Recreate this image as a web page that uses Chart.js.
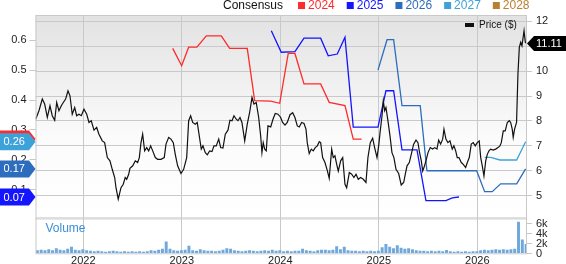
<!DOCTYPE html>
<html>
<head>
<meta charset="utf-8">
<script src="https://cdn.jsdelivr.net/npm/chart.js@4.4.1/dist/chart.umd.min.js"></script>
<style>
  html, body { margin: 0; padding: 0; background: #fff; }
  #wrap { width: 566px; height: 264px; position: relative; }
</style>
</head>
<body>
<div id="wrap"><canvas id="chart"></canvas></div>
<script>
// --- data (dates are decimal years) ---
const priceDates = [
  2021.517, 2021.550, 2021.584, 2021.608, 2021.635, 2021.662, 2021.685, 2021.710, 2021.730, 2021.753,
  2021.777, 2021.797, 2021.821, 2021.845, 2021.865, 2021.888, 2021.913, 2021.933, 2021.956, 2021.980,
  2022.007, 2022.035, 2022.058, 2022.081, 2022.109, 2022.136, 2022.159, 2022.193, 2022.217, 2022.244,
  2022.271, 2022.294, 2022.319, 2022.333, 2022.355, 2022.383, 2022.406, 2022.426, 2022.441, 2022.461,
  2022.474, 2022.502, 2022.528, 2022.552, 2022.569, 2022.586, 2022.603, 2022.623, 2022.644, 2022.664,
  2022.684, 2022.705, 2022.731, 2022.755, 2022.789, 2022.822, 2022.840, 2022.867, 2022.890, 2022.914,
  2022.934, 2022.958, 2022.992, 2023.019, 2023.050, 2023.070, 2023.090, 2023.111, 2023.137, 2023.157,
  2023.198, 2023.215, 2023.239, 2023.259, 2023.283, 2023.307, 2023.327, 2023.350, 2023.375, 2023.395,
  2023.418, 2023.442, 2023.469, 2023.489, 2023.510, 2023.530, 2023.553, 2023.571, 2023.591, 2023.611,
  2023.639, 2023.665, 2023.689, 2023.713, 2023.733, 2023.756, 2023.781, 2023.801, 2023.814, 2023.827,
  2023.842, 2023.858, 2023.875, 2023.903, 2023.926, 2023.949, 2023.977, 2024.003, 2024.024, 2024.048,
  2024.071, 2024.099, 2024.126, 2024.149, 2024.173, 2024.193, 2024.217, 2024.241, 2024.261, 2024.274,
  2024.294, 2024.315, 2024.335, 2024.355, 2024.376, 2024.396, 2024.410, 2024.430, 2024.454, 2024.477,
  2024.497, 2024.522, 2024.538, 2024.555, 2024.573, 2024.589, 2024.613, 2024.634, 2024.657, 2024.674,
  2024.701, 2024.725, 2024.748, 2024.769, 2024.792, 2024.816, 2024.843, 2024.870, 2024.890, 2024.914,
  2024.938, 2024.958, 2024.982, 2024.999, 2025.015, 2025.033, 2025.046, 2025.060, 2025.073, 2025.093,
  2025.114, 2025.134, 2025.154, 2025.175, 2025.202, 2025.228, 2025.253, 2025.269, 2025.287, 2025.310,
  2025.330, 2025.354, 2025.378, 2025.398, 2025.411, 2025.432, 2025.446, 2025.459, 2025.479, 2025.500,
  2025.523, 2025.547, 2025.568, 2025.591, 2025.608, 2025.628, 2025.649, 2025.662, 2025.682, 2025.702,
  2025.723, 2025.746, 2025.763, 2025.781, 2025.797, 2025.814, 2025.838, 2025.858, 2025.882, 2025.899,
  2025.919, 2025.939, 2025.959, 2025.980, 2026.000, 2026.020, 2026.035, 2026.051, 2026.068, 2026.086,
  2026.102, 2026.119, 2026.136, 2026.162, 2026.187, 2026.210, 2026.230, 2026.244, 2026.264, 2026.284,
  2026.305, 2026.325, 2026.339, 2026.355, 2026.365, 2026.379, 2026.399, 2026.413, 2026.427, 2026.441,
  2026.454, 2026.475, 2026.488, 2026.502
];
const priceValues = [
  8.07, 8.41, 8.88, 8.68, 8.14, 8.61, 8.21, 8.03, 8.74, 8.41,
  8.61, 8.74, 8.88, 9.21, 9.01, 8.27, 8.54, 8.21, 8.27, 8.21,
  8.47, 8.27, 7.94, 8.01, 7.63, 7.74, 7.47, 7.20, 7.13, 6.53,
  6.40, 6.06, 5.73, 5.30, 4.86, 5.32, 5.46, 5.73, 5.66, 5.86,
  6.10, 6.20, 6.40, 6.33, 6.53, 7.13, 7.47, 6.80, 6.93, 6.80,
  7.00, 6.80, 6.53, 6.46, 6.46, 6.53, 7.07, 7.34, 7.27, 7.13,
  6.66, 6.20, 5.89, 6.06, 6.53, 8.01, 8.21, 7.94, 7.87, 7.94,
  6.87, 7.00, 6.73, 6.64, 6.80, 6.77, 7.00, 7.00, 7.27, 6.93,
  6.91, 7.47, 7.63, 8.03, 8.01, 8.21, 8.07, 8.01, 8.14, 7.94,
  7.20, 7.87, 8.34, 8.94, 8.68, 8.74, 8.14, 7.40, 6.73, 7.13,
  6.87, 6.80, 7.80, 7.76, 8.07, 8.30, 8.27, 8.15, 7.94, 7.83,
  7.94, 8.25, 8.33, 8.14, 7.80, 7.76, 7.94, 7.90, 7.67, 7.13,
  6.69, 6.87, 6.80, 6.93, 7.00, 7.17, 7.13, 6.53, 6.33, 6.02,
  5.70, 6.87, 6.53, 6.60, 6.26, 5.99, 6.40, 6.53, 5.46, 5.32,
  5.93, 5.86, 5.73, 5.86, 5.66, 5.73, 5.66, 5.53, 6.53, 7.13,
  7.31, 6.93, 6.53, 7.00, 7.60, 8.21, 8.81, 8.41, 8.54, 8.01,
  7.40, 6.73, 6.53, 6.06, 5.89, 5.43, 5.53, 5.86, 6.20, 6.33,
  6.66, 7.07, 7.23, 7.13, 6.80, 6.40, 5.99, 6.13, 6.40, 6.73,
  6.93, 6.87, 6.93, 6.87, 7.23, 7.07, 7.27, 7.67, 7.27, 7.13,
  7.20, 6.87, 7.00, 6.80, 6.53, 6.53, 6.33, 6.26, 6.13, 6.33,
  6.53, 7.07, 7.13, 7.00, 7.13, 7.20, 6.53, 6.20, 5.79, 6.40,
  6.66, 6.80, 6.87, 6.83, 6.87, 6.93, 7.00, 7.13, 7.60, 7.60,
  7.94, 8.01, 7.94, 7.67, 7.34, 7.67, 7.94, 9.88, 10.95, 11.16,
  11.02, 11.62, 11.16, 11.11
];

// consensus EPS estimates (left axis)
const consensusYears = ['2024', '2025', '2026', '2027', '2028'];
const consensusColors = ['#ff2a2a', '#1414ff', '#2d6dbd', '#3ea2da', '#b8812f'];
const c2024Dates = [2022.908, 2022.999, 2023.070, 2023.154, 2023.249, 2023.401, 2023.486, 2023.665, 2023.740, 2023.903,
  2023.994, 2024.081, 2024.149, 2024.241, 2024.410, 2024.497, 2024.657, 2024.741, 2024.826];
const c2024Values = [0.573, 0.515, 0.577, 0.577, 0.615, 0.615, 0.573, 0.573, 0.398, 0.396,
  0.389, 0.556, 0.556, 0.454, 0.454, 0.392, 0.381, 0.269, 0.269];
const c2025Dates = [2023.909, 2024.010, 2024.149, 2024.241, 2024.410, 2024.487, 2024.579, 2024.657, 2024.741, 2024.992,
  2025.073, 2025.151, 2025.236, 2025.388, 2025.479, 2025.682, 2025.746, 2025.814];
const c2025Values = [0.632, 0.560, 0.562, 0.607, 0.607, 0.548, 0.554, 0.610, 0.309, 0.309,
  0.431, 0.431, 0.233, 0.233, 0.063, 0.063, 0.072, 0.075];
const c2026Dates = [2024.992, 2025.084, 2025.151, 2025.236, 2025.421, 2025.489, 2025.994, 2026.075, 2026.152, 2026.237,
  2026.400, 2026.491];
const c2026Values = [0.500, 0.602, 0.602, 0.381, 0.381, 0.163, 0.163, 0.093, 0.093, 0.119,
  0.119, 0.169];
const c2027Dates = [2026.075, 2026.136, 2026.230, 2026.400, 2026.491];
const c2027Values = [0.208, 0.208, 0.199, 0.199, 0.260];
const c2028Dates = [];
const c2028Values = [];

// volume, one bar per two weeks from mid 2021 (thousands)
const volumeStart = 2021.515;
const volumeStep = 1 / 26;
const volumeValues = [
  0.6, 0.7, 0.6, 0.8, 0.6, 1.0, 0.7, 0.6, 0.9, 1.3,
  0.7, 0.6, 0.8, 0.6, 0.5, 0.4, 0.5, 0.4, 0.3, 0.4,
  0.5, 0.4, 0.3, 0.4, 0.3, 0.4, 0.3, 0.4, 0.3, 0.4,
  0.6, 0.5, 0.7, 0.9, 2.3, 0.9, 0.6, 0.5, 0.6, 0.7,
  1.5, 0.6, 0.5, 0.8, 0.6, 0.5, 0.5, 0.4, 0.5, 0.7,
  1.0, 0.9, 0.6, 0.5, 0.4, 0.5, 0.6, 0.5, 0.4, 0.5,
  0.6, 0.5, 0.7, 0.5, 0.6, 0.4, 0.5, 0.4, 0.5, 0.5,
  0.9, 0.6, 0.5, 0.4, 0.6, 0.7, 0.7, 0.6, 0.7, 1.4,
  0.8, 1.3, 0.6, 0.5, 0.5, 0.4, 0.5, 0.4, 0.5, 0.4,
  0.5, 1.2, 1.8, 1.3, 1.0, 1.6, 1.1, 0.9, 1.0, 0.8,
  0.6, 0.5, 0.5, 0.4, 0.5, 0.4, 0.5, 0.4, 0.65, 0.4,
  0.3, 0.4, 0.3, 0.4, 0.3, 0.4, 0.4, 0.6, 0.7, 0.6,
  0.7, 0.8, 0.7, 0.8, 0.7, 0.8, 0.9, 6.2, 2.7, 1.8
];

// tick labels
const yearTicks = [2022, 2023, 2024, 2025, 2026];
const priceTicks = [5, 6, 7, 8, 9, 10, 11, 12];
const consensusTicks = [0.1, 0.2, 0.3, 0.4, 0.5, 0.6];
const volumeTicks = [0, 2, 4, 6];

const FONT = '"Liberation Sans", Arial, sans-serif';
const GRID = '#c9c9c9';
const priceFloor = 4.14; // bottom of the price panel

const pts = (xs, ys) => xs.map((x, i) => ({ x: x, y: ys[i] }));
const volumePoints = volumeValues.map((v, i) => ({ x: volumeStart + (i + 0.5) * volumeStep, y: v }));

const consensusSets = [
  [c2024Dates, c2024Values], [c2025Dates, c2025Values], [c2026Dates, c2026Values],
  [c2027Dates, c2027Values], [c2028Dates, c2028Values]
].map((d, i) => ({
  type: 'line',
  label: consensusYears[i],
  data: pts(d[0], d[1]),
  yAxisID: 'yL',
  borderColor: consensusColors[i],
  borderWidth: 1.3,
  pointRadius: 0,
  tension: 0,
  order: 1
}));

const fixTicks = (list) => (s) => { s.ticks = list.map(v => ({ value: v })); };

// background gradient + panel separator
const backdrop = {
  id: 'backdrop',
  beforeDraw(chart) {
    const { ctx, chartArea: a, scales } = chart;
    const split = scales.yR.getPixelForValue(priceFloor);
    ctx.save();
    const g = ctx.createLinearGradient(0, a.top, 0, split);
    g.addColorStop(0, '#e2e2e2');
    g.addColorStop(0.6, '#fbfbfb');
    g.addColorStop(1, '#ffffff');
    ctx.fillStyle = g;
    ctx.fillRect(a.left, a.top, a.right - a.left, split - a.top);
    ctx.fillStyle = '#dcdcdc';
    ctx.fillRect(a.left, split, a.right - a.left, 2.5);
    ctx.restore();
  }
};

// frame, legends, value tags, volume axis
const overlay = {
  id: 'overlay',
  afterDraw(chart) {
    const { ctx, chartArea: a, scales } = chart;
    ctx.save();
    ctx.strokeStyle = GRID;
    ctx.lineWidth = 1;
    ctx.strokeRect(a.left + 0.5, a.top + 0.5, a.right - a.left - 1, a.bottom - a.top);

    // volume axis on the right
    ctx.font = '11px ' + FONT;
    ctx.textBaseline = 'middle';
    ctx.textAlign = 'left';
    volumeTicks.forEach(v => {
      const y = Math.round(scales.yV.getPixelForValue(v)) + 0.5;
      ctx.strokeStyle = GRID;
      ctx.beginPath();
      ctx.moveTo(a.right, y);
      ctx.lineTo(a.right + 5, y);
      ctx.stroke();
      ctx.fillStyle = '#222';
      ctx.fillText(v === 0 ? '0' : v + 'k', a.right + 9, y);
    });

    // Volume caption
    ctx.font = '12px ' + FONT;
    ctx.fillStyle = '#3b8ed4';
    ctx.fillText('Volume', a.left + 10, 229);

    // Price legend
    ctx.fillStyle = '#111';
    ctx.fillRect(465, 23, 9, 4);
    ctx.font = '10px ' + FONT;
    ctx.fillText('Price ($)', 479, 25.5);

    // header legend
    ctx.font = '12px ' + FONT;
    ctx.fillStyle = '#111';
    let x = 223;
    ctx.fillText('Consensus', x, 5.5);
    x += ctx.measureText('Consensus').width + 15;
    consensusYears.forEach((yr, i) => {
      ctx.fillStyle = consensusColors[i];
      ctx.fillRect(x, 2, 7, 7);
      x += 10;
      ctx.fillText(yr, x, 5.5);
      x += ctx.measureText(yr).width + 12;
    });

    // left tags with last consensus value
    ctx.font = '11px ' + FONT;
    consensusSets.forEach((ds, i) => {
      if (!ds.data.length) return;
      const last = ds.data[ds.data.length - 1].y;
      const y = scales.yL.getPixelForValue(last);
      ctx.fillStyle = consensusColors[i];
      ctx.beginPath();
      ctx.moveTo(0, y - 8.5);
      ctx.lineTo(29, y - 8.5);
      ctx.lineTo(a.left, y);
      ctx.lineTo(29, y + 8.5);
      ctx.lineTo(0, y + 8.5);
      ctx.closePath();
      ctx.fill();
      ctx.fillStyle = '#fff';
      ctx.fillText(last.toFixed(2), 3.5, y + 0.5);
    });

    // right tag with last price
    const lp = priceValues[priceValues.length - 1];
    const py = scales.yR.getPixelForValue(lp);
    ctx.fillStyle = '#000';
    ctx.beginPath();
    ctx.moveTo(a.right, py);
    ctx.lineTo(a.right + 7, py - 7.5);
    ctx.lineTo(566, py - 7.5);
    ctx.lineTo(566, py + 7.5);
    ctx.lineTo(a.right + 7, py + 7.5);
    ctx.closePath();
    ctx.fill();
    ctx.fillStyle = '#fff';
    ctx.fillText(lp.toFixed(2), a.right + 9, py + 0.5);
    ctx.restore();
  }
};

const tickFont = { family: FONT, size: 11 };

new Chart(document.getElementById('chart'), {
  type: 'line',
  data: {
    datasets: [
      {
        type: 'line',
        label: 'Price ($)',
        data: pts(priceDates, priceValues),
        yAxisID: 'yR',
        borderColor: '#111',
        borderWidth: 1.2,
        pointRadius: 0,
        tension: 0,
        order: 0
      },
      ...consensusSets,
      {
        type: 'bar',
        label: 'Volume',
        data: volumePoints,
        yAxisID: 'yV',
        backgroundColor: '#6fa8dd',
        borderWidth: 0,
        barPercentage: 1,
        categoryPercentage: 0.78,
        order: 3
      }
    ]
  },
  options: {
    responsive: true,
    maintainAspectRatio: false,
    animation: false,
    devicePixelRatio: 1,
    layout: { padding: { top: 15, left: 0, right: 0, bottom: 0 } },
    plugins: { legend: { display: false }, tooltip: { enabled: false } },
    scales: {
      x: {
        type: 'linear',
        min: 2021.515,
        max: 2026.505,
        offset: false,
        afterBuildTicks: fixTicks(yearTicks),
        afterFit: s => { s.height = 10.7; },
        grid: { color: GRID, drawTicks: false, offset: false },
        border: { display: false },
        ticks: { font: tickFont, color: '#222', padding: 1, maxRotation: 0, callback: v => String(v) }
      },
      yL: {
        type: 'linear',
        position: 'left',
        min: -0.1136,
        max: 0.6848,
        afterBuildTicks: fixTicks(consensusTicks),
        afterFit: s => { s.width = 35.5; },
        grid: { drawOnChartArea: false, color: GRID, tickLength: 6 },
        border: { display: false },
        ticks: { font: tickFont, color: '#222', padding: 3, callback: v => v.toFixed(1) }
      },
      yV: {
        type: 'linear',
        position: 'right',
        display: false,
        min: 0,
        max: 46.7
      },
      yR: {
        type: 'linear',
        position: 'right',
        min: 2.688,
        max: 12.253,
        afterBuildTicks: fixTicks(priceTicks),
        afterFit: s => { s.width = 39; },
        grid: { color: GRID, tickLength: 5 },
        border: { display: false },
        ticks: { font: tickFont, color: '#222', padding: 4, callback: v => String(v) }
      }
    }
  },
  plugins: [backdrop, overlay]
});
</script>
</body>
</html>
